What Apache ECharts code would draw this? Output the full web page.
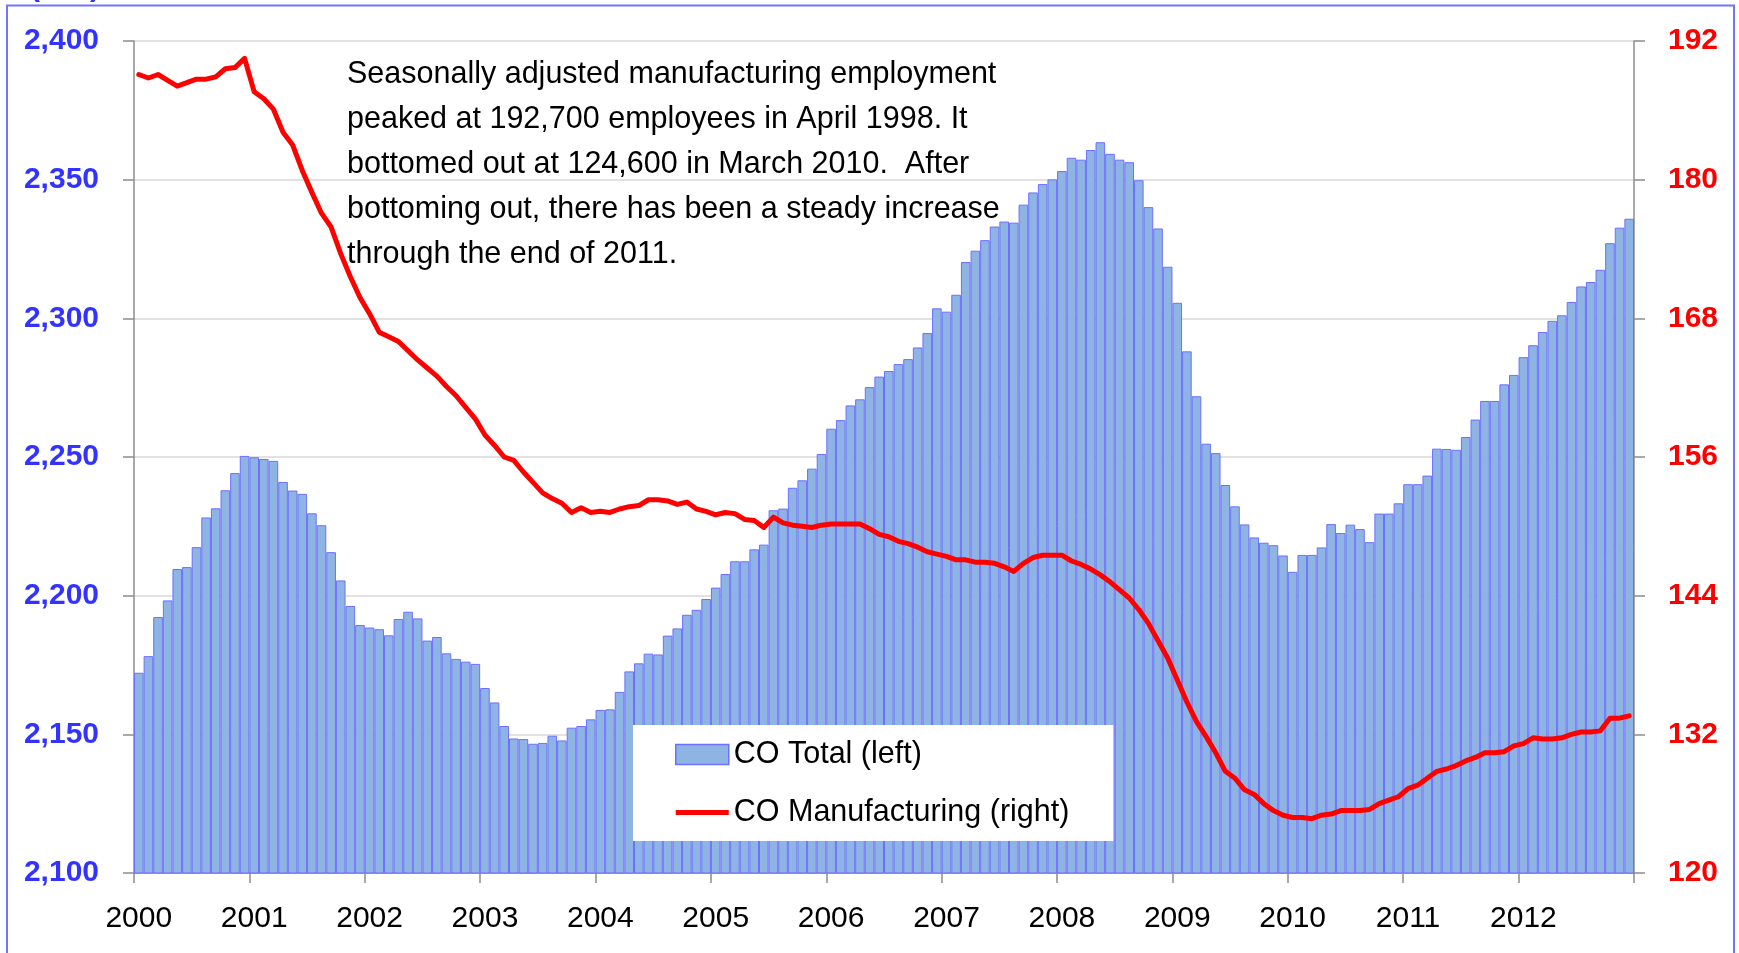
<!DOCTYPE html>
<html>
<head>
<meta charset="utf-8">
<script src="https://cdn.jsdelivr.net/npm/echarts@6/dist/echarts.min.js"></script>
<style>
html,body{margin:0;padding:0;background:#fff;overflow:hidden;}
#chart{width:1739px;height:953px;}
</style>
</head>
<body>
<div id="chart"></div>
<script>
const yearLabels = ['2000','2001','2002','2003','2004','2005','2006','2007','2008','2009','2010','2011','2012'];
const monthNames = ['Jan','Feb','Mar','Apr','May','Jun','Jul','Aug','Sep','Oct','Nov','Dec'];

// CO Total employment (thousands), left axis
const totalEmployment = [
  2172.2,2178.2,2192.3,2198.3,2209.6,2210.3,2217.5,2228.2,2231.5,2238.0,2244.2,2250.4,
  2249.9,2249.3,2248.6,2241.0,2237.9,2236.7,2229.7,2225.4,2215.7,2205.5,2196.3,2189.4,
  2188.5,2187.9,2185.7,2191.6,2194.2,2191.8,2183.8,2185.1,2179.2,2177.2,2176.2,2175.4,
  2166.7,2161.5,2153.0,2148.5,2148.3,2146.6,2146.9,2149.5,2147.8,2152.4,2153.0,2155.4,
  2158.8,2159.0,2165.3,2172.7,2175.6,2179.1,2178.8,2185.6,2188.2,2193.1,2194.9,2198.8,
  2202.9,2207.8,2212.4,2212.4,2216.7,2218.4,2230.8,2231.4,2238.9,2241.6,2245.8,2251.1,
  2260.2,2263.3,2268.6,2270.8,2275.2,2279.0,2281.0,2283.5,2285.3,2289.5,2294.7,2303.6,
  2302.4,2308.5,2320.3,2324.4,2328.2,2333.1,2334.9,2334.5,2341.0,2345.4,2348.4,2350.1,
  2353.1,2357.9,2357.2,2360.7,2363.5,2359.3,2357.2,2356.3,2349.8,2340.1,2332.4,2318.6,
  2305.6,2288.1,2271.9,2254.8,2251.4,2239.9,2232.2,2225.7,2221.0,2219.1,2218.2,2214.5,
  2208.6,2214.7,2214.7,2217.4,2225.8,2222.6,2225.6,2224.0,2219.3,2229.6,2229.6,2233.3,
  2240.2,2240.2,2243.3,2253.0,2252.9,2252.6,2257.2,2263.5,2270.2,2270.2,2276.2,2279.6,
  2286.0,2290.3,2295.1,2299.1,2301.1,2305.9,2311.5,2313.1,2317.5,2327.1,2332.7,2335.9
];

// CO Manufacturing employment (thousands), right axis
const manufacturingEmployment = [
  189.1,188.8,189.1,188.6,188.1,188.4,188.7,188.7,188.9,189.6,189.7,190.5,
  187.6,187.0,186.1,184.1,183.0,180.8,178.9,177.1,175.9,173.6,171.6,169.8,
  168.4,166.8,166.4,166.0,165.2,164.4,163.7,163.0,162.1,161.3,160.3,159.3,
  157.9,157.0,156.0,155.7,154.7,153.8,152.9,152.4,152.0,151.2,151.6,151.2,
  151.3,151.2,151.5,151.7,151.8,152.3,152.3,152.2,151.9,152.1,151.5,151.3,
  151.0,151.2,151.1,150.6,150.5,149.9,150.8,150.3,150.1,150.0,149.9,150.1,
  150.2,150.2,150.2,150.2,149.8,149.3,149.1,148.7,148.5,148.2,147.8,147.6,
  147.4,147.1,147.1,146.9,146.9,146.8,146.5,146.1,146.8,147.3,147.5,147.5,
  147.5,147.0,146.7,146.3,145.8,145.2,144.5,143.8,142.8,141.6,140.1,138.6,
  136.7,134.8,133.1,131.8,130.4,128.8,128.2,127.2,126.8,126.0,125.4,125.0,
  124.8,124.8,124.7,125.0,125.1,125.4,125.4,125.4,125.5,126.0,126.3,126.6,
  127.3,127.6,128.2,128.8,129.0,129.3,129.7,130.0,130.4,130.4,130.5,131.0,
  131.2,131.7,131.6,131.6,131.7,132.0,132.2,132.2,132.3,133.4,133.4,133.6
];

const seriesNames = ['CO Total (left)', 'CO Manufacturing (right)'];
const unitLabel = '(000)';
const annotationLines = [
  'Seasonally adjusted manufacturing employment',
  'peaked at 192,700 employees in April 1998. It',
  'bottomed out at 124,600 in March 2010.  After',
  'bottoming out, there has been a steady increase',
  'through the end of 2011.'
];

const categories = [];
yearLabels.forEach(y => monthNames.forEach(m => categories.push(m + ' ' + y)));

const FONT = '"Liberation Sans", Arial, sans-serif';
const AXIS_GRAY = '#8c8c8c';

const chart = echarts.init(document.getElementById('chart'), null, {renderer: 'canvas'});
chart.setOption({
  animation: false,
  backgroundColor: '#ffffff',
  grid: {left: 134, right: 105, top: 41, bottom: 80, containLabel: false},
  legend: {
    left: 633, top: 725, orient: 'vertical',
    backgroundColor: '#ffffff',
    padding: [14, 44, 13, 42],
    itemWidth: 53, itemHeight: 20, itemGap: 27,
    textStyle: {fontFamily: FONT, fontSize: 30.5, color: '#000'},
    data: [
      {name: seriesNames[0], icon: 'rect', itemStyle: {borderWidth: 1.5}},
      {name: seriesNames[1], icon: 'path://M0,0H53V5H0Z', itemStyle: {color: '#ff0000', borderWidth: 0}}
    ]
  },
  xAxis: {
    type: 'category',
    data: categories,
    boundaryGap: true,
    axisLine: {show: true, lineStyle: {color: AXIS_GRAY, width: 1.5}},
    axisTick: {show: true, interval: 11, length: 10, lineStyle: {color: AXIS_GRAY, width: 1.5}},
    axisLabel: {
      interval: 11, margin: 31,
      fontFamily: FONT, fontSize: 30, color: '#000',
      formatter: v => v.split(' ')[1]
    },
    splitLine: {show: false}
  },
  yAxis: [
    {
      type: 'value', min: 2100, max: 2400, interval: 50, position: 'left',
      axisLine: {show: true, lineStyle: {color: AXIS_GRAY, width: 1.5}},
      axisTick: {show: true, length: 11, lineStyle: {color: AXIS_GRAY, width: 1.5}},
      axisLabel: {
        margin: 35, fontFamily: FONT, fontSize: 30, fontWeight: 'bold', color: '#3333ff',
        formatter: v => v.toLocaleString('en-US')
      },
      splitLine: {show: true, lineStyle: {color: '#d9d9d9', width: 1.5}}
    },
    {
      type: 'value', min: 120, max: 192, interval: 12, position: 'right',
      axisLine: {show: true, lineStyle: {color: AXIS_GRAY, width: 1.5}},
      axisTick: {show: true, length: 11, lineStyle: {color: AXIS_GRAY, width: 1.5}},
      axisLabel: {margin: 34, fontFamily: FONT, fontSize: 30, fontWeight: 'bold', color: '#ff0000'},
      splitLine: {show: false}
    }
  ],
  series: [
    {
      name: seriesNames[0], type: 'bar', yAxisIndex: 0,
      data: totalEmployment,
      barCategoryGap: '0%',
      itemStyle: {color: '#8db4e2', borderColor: '#6f6fff', borderWidth: 1},
      z: 2
    },
    {
      name: seriesNames[1], type: 'line', yAxisIndex: 1,
      data: manufacturingEmployment,
      symbol: 'none', smooth: false,
      lineStyle: {color: '#ff0000', width: 5, join: 'round', cap: 'round'},
      itemStyle: {color: '#ff0000'},
      z: 3
    }
  ],
  graphic: [
    {
      type: 'rect', silent: true, z: 100,
      shape: {x: 7, y: 5.5, width: 1727, height: 960},
      style: {fill: 'none', stroke: '#7373ff', lineWidth: 2}
    },
    {
      type: 'text', silent: true, z: 100,
      x: 30, y: -12,
      style: {text: unitLabel, fontFamily: FONT, fontSize: 30, fontWeight: 'bold', fill: '#3333ff', verticalAlign: 'middle', align: 'left'}
    },
    {
      type: 'text', silent: true, z: 50,
      left: 347, top: 52,
      style: {text: annotationLines.join('\n'), fontFamily: FONT, fontSize: 30.5, lineHeight: 45, fill: '#000'}
    }
  ]
});
</script>
</body>
</html>
